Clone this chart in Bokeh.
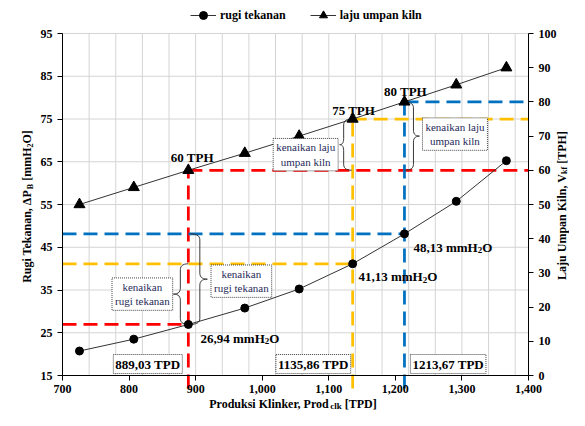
import math
import numpy as np
from bokeh.plotting import figure
from bokeh.models import (Range1d, LinearAxis, FixedTicker, NumeralTickFormatter,
                          Label, Legend, LegendItem)
from bokeh.embed import file_html
from bokeh.resources import INLINE

# ---------------- data ----------------
produksi = [725.5, 807.1, 889.03, 973.8, 1055.5, 1135.86, 1213.67, 1291.5, 1366.8]
rugi_tekanan = [20.73, 23.5, 26.94, 30.77, 35.24, 41.13, 48.13, 55.74, 65.25]
laju_umpan = [50, 55, 60, 65, 70, 75, 80, 85, 90]

ref_prod = [889.03, 1135.86, 1213.67]
ref_rugi = [26.94, 41.13, 48.13]
ref_laju = [60, 75, 80]
ref_colors = ["#FF0000", "#FFC000", "#0070C0"]
ref_prod_text = ["889,03 TPD", "1135,86 TPD", "1213,67 TPD"]
ref_rugi_text = ["26,94 mmH", "41,13 mmH", "48,13 mmH"]
ref_laju_text = ["60 TPH", "75 TPH", "80 TPH"]

x_ticks = [700, 800, 900, 1000, 1100, 1200, 1300, 1400]
x_grid = list(range(700, 1400, 40))
y_ticks = [15, 25, 35, 45, 55, 65, 75, 85, 95]
tph_ticks = [0, 10, 20, 30, 40, 50, 60, 70, 80, 90, 100]

series_names = ["rugi tekanan", "laju umpan kiln"]

# ---------------- layout ----------------
FONT = "Liberation Serif"
W, H = 569, 410
BL, BR, BT, BB = 62, 41, 33, 35          # plot-area margins inside the canvas
FW, FH = W - BL - BR, H - BT - BB
X0, X1, Y0, Y1, T0, T1 = 700, 1400, 15, 95, 0, 100
XS, XE = X0 - BL * (X1 - X0) / FW, X1 + BR * (X1 - X0) / FW
YS, YE = Y0 - BB * (Y1 - Y0) / FH, Y1 + BT * (Y1 - Y0) / FH
TS, TE = T0 - BB * (T1 - T0) / FH, T1 + BT * (T1 - T0) / FH
NAVY = "#1f2a5a"


def sx(x):
    return (x - XS) * W / (XE - XS)


def syl(y):
    return (y - YS) * H / (YE - YS)


def syt(t):
    return (t - TS) * H / (TE - TS)


def ix(s):
    return XS + s * (XE - XS) / W


def iyl(s):
    return YS + s * (YE - YS) / H


# Times-Bold advance widths (1/1000 em)
TB = {' ': 250, ',': 250, '.': 250, '[': 333, ']': 333, 'Δ': 612}
for c in "0123456789":
    TB[c] = 500
TB.update(dict(zip("ABCDEFGHIJKLMNOPQRSTUVWXYZ",
                   [722, 667, 722, 722, 667, 611, 778, 778, 389, 500, 778, 667, 944,
                    722, 778, 611, 778, 722, 556, 667, 722, 722, 1000, 722, 722, 667])))
TB.update(dict(zip("abcdefghijklmnopqrstuvwxyz",
                   [500, 556, 444, 556, 444, 333, 500, 556, 278, 333, 556, 278, 833,
                    556, 500, 556, 556, 444, 389, 333, 556, 500, 722, 500, 500, 444])))


def tw(s, size):
    return sum(TB.get(c, 500) for c in s) * size / 1000.0


p = figure(width=W, height=H, output_backend="svg", toolbar_location=None,
           x_range=Range1d(XS, XE), y_range=Range1d(YS, YE),
           x_axis_location=None, y_axis_location=None, min_border=0)
p.min_border_left = p.min_border_right = p.min_border_top = p.min_border_bottom = 0
p.extra_y_ranges = {"tph": Range1d(TS, TE)}
p.outline_line_color = None
p.background_fill_color = "white"
p.border_fill_color = "white"
p.xgrid.visible = False
p.ygrid.visible = False

ax_left = LinearAxis(fixed_location=X0, bounds=(Y0, Y1), ticker=FixedTicker(ticks=y_ticks))
ax_right = LinearAxis(y_range_name="tph", fixed_location=X1, bounds=(T0, T1),
                      ticker=FixedTicker(ticks=tph_ticks))
ax_bottom = LinearAxis(fixed_location=Y0, bounds=(X0, X1), ticker=FixedTicker(ticks=x_ticks),
                       formatter=NumeralTickFormatter(format="0,0"))
p.add_layout(ax_left, "left")
p.add_layout(ax_right, "right")
p.add_layout(ax_bottom, "below")

for ax in [ax_left, ax_right, ax_bottom]:
    ax.axis_line_color = "black"
    ax.axis_line_width = 1
    ax.major_tick_out = 5
    ax.major_tick_in = 0
    ax.major_tick_line_color = "black"
    ax.minor_tick_line_color = None
    ax.major_label_text_font = FONT
    ax.major_label_text_font_style = "bold"
    ax.major_label_text_font_size = "12px"
    ax.major_label_text_color = "black"
    ax.major_label_standoff = 5
ax_bottom.major_label_standoff = 4

# ---------------- grid ----------------
GRID = "#d4d4d4"
p.segment(x0=x_grid, y0=[Y0] * len(x_grid), x1=x_grid, y1=[Y1] * len(x_grid),
          line_color=GRID, line_width=1)
p.segment(x0=[X0] * len(y_ticks), y0=y_ticks, x1=[X1] * len(y_ticks), y1=y_ticks,
          line_color=GRID, line_width=1)

# ---------------- dashed reference lines ----------------
below_ext = 13 * (T1 - T0) / FH
for xv, dp, tph, col in zip(ref_prod, ref_rugi, ref_laju, ref_colors):
    kw = dict(line_color=col, line_width=2.75, line_dash="14 7")
    p.line([X0, xv], [dp, dp], **kw)
    p.line([xv, xv], [T0 - below_ext, tph], y_range_name="tph", **kw)
    p.line([xv, X1], [tph, tph], y_range_name="tph", **kw)


# ---------------- braces ----------------
def qbez(p0, c, p1, n=8):
    t = np.linspace(0, 1, n)
    xs = (1 - t) ** 2 * p0[0] + 2 * (1 - t) * t * c[0] + t ** 2 * p1[0]
    ys = (1 - t) ** 2 * p0[1] + 2 * (1 - t) * t * c[1] + t ** 2 * p1[1]
    return list(xs), list(ys)


def brace(end, stem, tip, top, bot, r=6):
    ym = (top + bot) / 2.0
    xs, ys = [], []
    for seg in [qbez((end, top), (stem, top), (stem, top - r)),
                qbez((stem, ym + r), (stem, ym), (tip, ym)),
                qbez((tip, ym), (stem, ym), (stem, ym - r)),
                qbez((stem, bot + r), (stem, bot), (end, bot))]:
        xs += seg[0]
        ys += seg[1]
    p.line([ix(v) for v in xs], [iyl(v) for v in ys], line_color="#3a3a3a", line_width=1)


xa = sx(ref_prod[0])
brace(xa, xa - 8, xa - 15, syl(ref_rugi[1]), syl(ref_rugi[0]))
brace(xa + 2, xa + 11.5, xa + 19, syl(ref_rugi[2]), syl(ref_rugi[0]))
xc = sx(ref_prod[1])
brace(xc - 1, xc - 9, xc - 13, syt(ref_laju[1]), syt(ref_laju[0]))
xd = sx(ref_prod[2])
brace(xd, xd + 9, xd + 15, syt(ref_laju[2]), syt(ref_laju[0]))

# ---------------- series ----------------
l1 = p.line(produksi, rugi_tekanan, line_color="#333333", line_width=1)
s1 = p.scatter(produksi, rugi_tekanan, marker="circle", size=8, color="black")
l2 = p.line(produksi, laju_umpan, y_range_name="tph", line_color="#333333", line_width=1)
s2 = p.scatter(produksi, laju_umpan, y_range_name="tph", marker="triangle", size=11,
               color="black")

legend = Legend(items=[LegendItem(label=series_names[0], renderers=[l1, s1]),
                       LegendItem(label=series_names[1], renderers=[l2, s2])],
                location=(190, 385), orientation="horizontal", glyph_width=26,
                glyph_height=20, label_standoff=4, spacing=24, padding=0, margin=0,
                border_line_alpha=0, background_fill_alpha=0,
                label_text_font=FONT, label_text_font_style="bold",
                label_text_font_size="12px", label_text_color="black")
p.add_layout(legend)


# ---------------- text helpers ----------------
def lab(x, y, text, size, style="bold", align="left", baseline="alphabetic", angle=0,
        color="black", **kw):
    p.add_layout(Label(x=x, y=y, x_units="screen", y_units="screen", text=text,
                       angle=angle, text_font=FONT, text_font_size=f"{size}px",
                       text_font_style=style, text_align=align, text_baseline=baseline,
                       text_color=color, **kw))


def parts_text(x, y, parts, angle=0):
    ca, sa = math.cos(angle), math.sin(angle)
    pos = 0.0
    for text, size, shift in parts:
        stripped = text.lstrip(" ")
        pos += tw(text[:len(text) - len(stripped)], size)
        lab(x + pos * ca + shift * sa, y + pos * sa - shift * ca, stripped, size,
            angle=angle)
        pos += tw(stripped, size)


def parts_width(parts):
    return sum(tw(t, s) for t, s, _ in parts)


left_parts = [("Rugi Tekanan, ΔP", 12, 0), ("B", 8, 3), (" [mmH", 12, 0), ("2", 8, 3),
              ("O]", 12, 0)]
parts_text(26.5, 204 - parts_width(left_parts) / 2, left_parts, angle=math.pi / 2)
right_parts = [("Laju Umpan Kiln, V", 12, 0), ("kf", 8, 3), (" [TPH]", 12, 0)]
parts_text(561, 205 - parts_width(right_parts) / 2, right_parts, angle=math.pi / 2)
bottom_parts = [("Produksi Klinker, Prod", 12, 0), ("clk", 9, 2.5), (" [TPD]", 12, 0)]
parts_text(292.5 - parts_width(bottom_parts) / 2, 7, bottom_parts)

# TPH labels
tph_dx = [4, 1, 1]
tph_dy = [12.7, 9, 10.7]
for xv, tph, txt, ddx, ddy in zip(ref_prod, ref_laju, ref_laju_text, tph_dx, tph_dy):
    lab(sx(xv) + ddx, syt(tph) + ddy, txt, 13, align="center")

# mmH2O labels
mm_dx = [12.2, 5.8, 9]
mm_dy = [13.8, 13, 13.3]
for xv, dp, txt, ddx, ddy in zip(ref_prod, ref_rugi, ref_rugi_text, mm_dx, mm_dy):
    parts_text(sx(xv) + ddx, syl(dp) - ddy, [(txt, 13, 0), ("2", 9, 3), ("O", 13, 0)])

# TPD boxes
tpd_dx = [-6, -2, 6]
tpd_align = ["right", "right", "left"]
for xv, txt, ddx, al in zip(ref_prod, ref_prod_text, tpd_dx, tpd_align):
    lab(sx(xv) + ddx, syl(Y0) + 2, txt, 13, align=al, baseline="bottom",
        background_fill_color="white", border_line_color="#444444",
        border_line_dash="1 1", border_line_width=1, padding=2)

# kenaikan boxes
box_kw = dict(style="normal", align="center", baseline="middle", color=NAVY,
              background_fill_color="white", border_line_color="#444444",
              border_line_dash="1 1", border_line_width=1, padding=3)
lab(xa - 46, syl((ref_rugi[0] + ref_rugi[1]) / 2), "kenaikan\nrugi tekanan", 11, **box_kw)
lab(xa + 53, syl((ref_rugi[0] + ref_rugi[2]) / 2) - 2, "kenaikan\nrugi tekanan", 11, **box_kw)
lab(xc - 47, syt((ref_laju[0] + ref_laju[1]) / 2) - 10, "kenaikan laju\numpan kiln", 11,
    **box_kw)
lab(xd + 50.5, syt((ref_laju[0] + ref_laju[2]) / 2) + 2, "kenaikan laju\numpan kiln", 11,
    **box_kw)

open("out.html", "w").write(file_html(p, INLINE))
